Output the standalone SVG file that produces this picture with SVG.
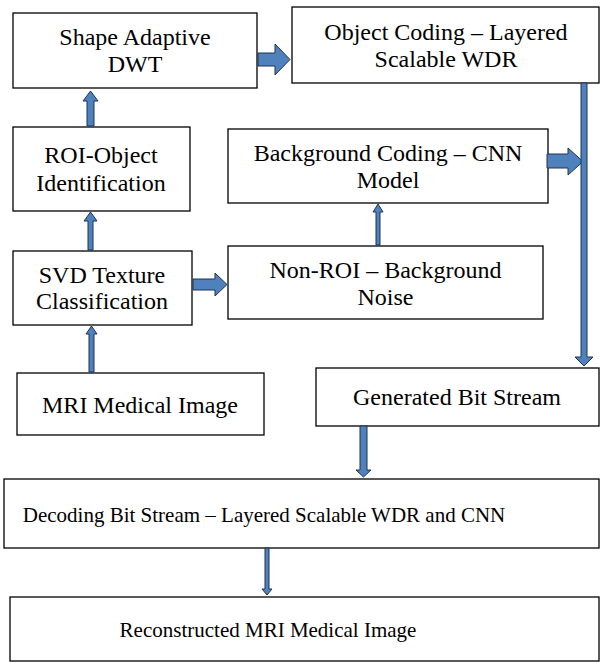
<svg xmlns="http://www.w3.org/2000/svg" width="600" height="662" viewBox="0 0 600 662">
<style>
.box{fill:#fff;stroke:#000;stroke-width:1.3}
text{font-family:'Liberation Serif','Tinos','DejaVu Serif','Times New Roman',Times,serif;font-size:24px;fill:#000;text-anchor:middle}
text.s{font-size:21px}
.a{fill:#4F81BD;stroke:#1F3350;stroke-width:1}
</style>
<rect width="600" height="662" fill="#fff"/>
<g id="n-shape"><rect class="box" x="13" y="13" width="244" height="75"/><text x="135" y="45">Shape Adaptive</text><text x="135" y="72">DWT</text></g>
<g id="n-object"><rect class="box" x="292" y="7" width="307" height="76"/><text x="446" y="40">Object Coding – Layered</text><text x="446" y="67">Scalable WDR</text></g>
<g id="n-roi"><rect class="box" x="13" y="127" width="177" height="84"/><text x="101" y="163">ROI-Object</text><text x="101" y="191">Identification</text></g>
<g id="n-bg"><rect class="box" x="228" y="129" width="320" height="74"/><text x="388" y="161">Background Coding – CNN</text><text x="388" y="188">Model</text></g>
<g id="n-svd"><rect class="box" x="13" y="251" width="179" height="74"/><text x="102" y="283">SVD Texture</text><text x="102" y="309">Classification</text></g>
<g id="n-nonroi"><rect class="box" x="228" y="246" width="315" height="73"/><text x="385.5" y="278">Non-ROI – Background</text><text x="385.5" y="305">Noise</text></g>
<g id="n-mri"><rect class="box" x="17" y="373" width="247" height="62"/><text x="140" y="413">MRI Medical Image</text></g>
<g id="n-gen"><rect class="box" x="316" y="368" width="283" height="58"/><text x="457" y="405">Generated Bit Stream</text></g>
<g id="n-dec"><rect class="box" x="4" y="479" width="595" height="69"/><text class="s" x="264" y="522">Decoding Bit Stream – Layered Scalable WDR and CNN</text></g>
<g id="n-rec"><rect class="box" x="10" y="597" width="589" height="64"/><text class="s" x="268" y="637">Reconstructed MRI Medical Image</text></g>
<g id="connectors">
<polygon class="a" points="258,53 275,53 275,44 290,59.5 275,75 275,66 258,66"/>
<polygon class="a" points="87,126 87,101 83,101 90.5,91 98,101 94,101 94,126"/>
<polygon class="a" points="88,250 88,221 84,221 90.5,212 97,221 93,221 93,250"/>
<polygon class="a" points="193,279 215,279 215,273 227,284.5 215,296 215,290 193,290"/>
<polygon class="a" points="376,245 376,212 373,212 378,204 383,212 380,212 380,245"/>
<polygon class="a" points="89,372 89,334 86,334 91.5,326 97,334 94,334 94,372"/>
<polygon class="a" points="547,154 568,154 568,148 583,161.5 568,175 568,168 547,168"/>
<polygon class="a" points="581,83 587,83 587,357 593,357 584,366 575,357 581,357"/>
<polygon class="a" points="360,426 367,426 367,470 371,470 363.5,477 356,470 360,470"/>
<polygon class="a" points="265,548 269,548 269,589 272,589 267,595 262,589 265,589"/>
</g>
</svg>
